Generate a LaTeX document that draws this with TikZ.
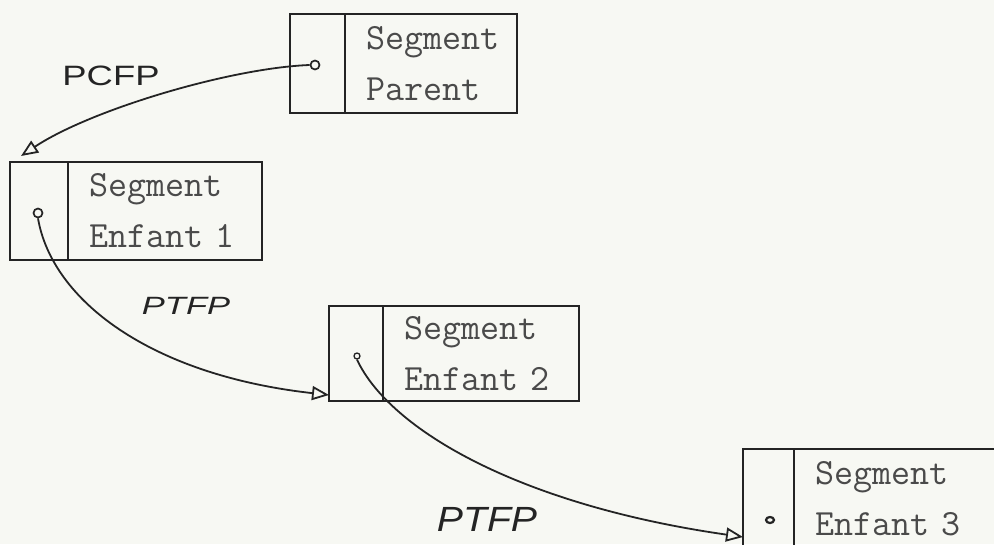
\documentclass[tikz,border=0pt]{standalone}
\usepackage{fontspec}
\setsansfont{Liberation Sans}
\usetikzlibrary{arrows.meta,calc,shapes.geometric}
\definecolor{paper}{HTML}{F7F8F3}
\definecolor{ink}{HTML}{242424}
\definecolor{typeink}{HTML}{4A4A4A}
\tikzset{
  cellbox/.style={draw=ink, line width=2.2pt, inner sep=0pt, outer sep=0pt},
  textbox/.style={draw=ink, line width=2.2pt, anchor=west, align=left,
    inner xsep=21pt, inner ysep=0pt, outer sep=0pt, text=typeink,
    font=\ttfamily\fontsize{37}{51}\selectfont},
  dotc/.style={circle, draw=ink, line width=1.7pt, inner sep=0pt, minimum size=9pt},
  conn/.style={draw=ink, line width=1.8pt,
    -{Triangle[open, length=17pt, width=14pt, line width=1.8pt]}},
  hand/.style={text=ink, inner sep=0pt}
}
\begin{document}
\begin{tikzpicture}[x=1pt, y=-1pt]
  \fill[paper] (0,0) rectangle (994,544);
  \clip (0,0) rectangle (994,544);

  % Segment Parent
  \node[cellbox, minimum width=55pt, minimum height=99pt] (c0) at (317.5,63.5) {};
  \node[textbox, minimum width=172pt, minimum height=99pt, text width=130pt] (t0) at (c0.east) {Segment\\Parent};
  \node[dotc] (d0) at (315,65) {};

  % Segment Enfant 1
  \node[cellbox, minimum width=58pt, minimum height=98pt] (c1) at (39,211) {};
  \node[textbox, minimum width=194pt, minimum height=98pt, text width=152pt] (t1) at (c1.east) {Segment\\Enfant~1};
  \node[dotc] (d1) at (38,213) {};

  % Segment Enfant 2
  \node[cellbox, minimum width=54pt, minimum height=95pt] (c2) at (356,353.5) {};
  \node[textbox, minimum width=196pt, minimum height=95pt, text width=154pt] (t2) at (c2.east) {Segment\\Enfant~2};
  \node[dotc, minimum size=6pt, line width=1.3pt] (d2) at (357,356) {};

  % Segment Enfant 3
  \node[cellbox, minimum width=51pt, minimum height=100pt] (c3) at (768.5,499) {};
  \node[textbox, minimum width=260pt, minimum height=100pt, text width=218pt] (t3) at (c3.east) {Segment\\Enfant~3};
  \node[dotc, ellipse, minimum width=8pt, minimum height=6pt, line width=2.2pt] (d3) at (770,520) {};

  % arrow end points
  \coordinate (a1) at ($(c1.north west)+(11,-6)$);
  \coordinate (a2) at ($(c2.south west)+(0,-6)$);
  \coordinate (a3) at ($(c3.west)+(0,38)$);

  % connectors
  \draw[conn] (d0.west) .. controls (230,68) and (90,110) .. (a1);
  \draw[conn] (d1.south) .. controls (52,300) and (150,375) .. (a2);
  \draw[conn] (d2.south) .. controls (390,430) and (520,505) .. (a3);

  % labels
  \node[hand, font=\sffamily\fontsize{28}{28}\selectfont] (l0) at (111,76) {\scalebox{1.3}[1]{PCFP}};
  \node[hand, font=\sffamily\itshape\fontsize{25}{25}\selectfont] (l1) at (186,306) {\scalebox{1.38}[1]{PTFP}};
  \node[hand, font=\sffamily\itshape\fontsize{35}{35}\selectfont] (l2) at (487,519) {\scalebox{1.12}[1]{PTFP}};
\end{tikzpicture}
\end{document}
